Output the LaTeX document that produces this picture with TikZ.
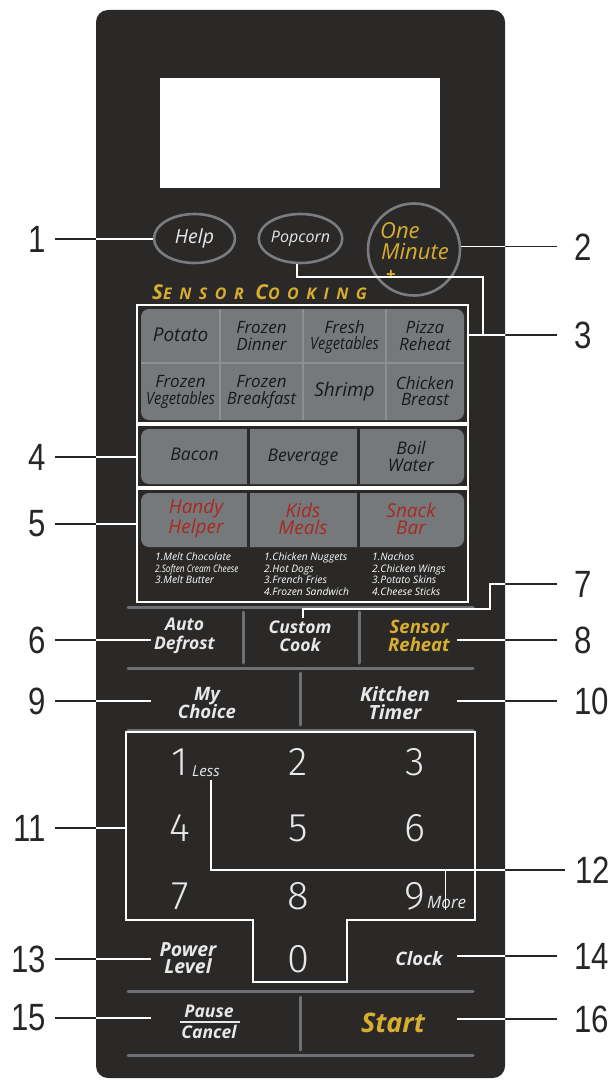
\documentclass[tikz,border=0pt]{standalone}
\usepackage{fontspec}
\setmainfont{Open Sans}
\newfontfamily\labfont{Liberation Sans}
\newfontfamily\digfont{Fira Sans Light}
\usetikzlibrary{shapes.geometric}
\newcommand\narrowlab[1]{\scalebox{0.82}[1]{#1}}
\definecolor{panel}{HTML}{2A2928}
\definecolor{ringgray}{HTML}{7A7C7F}
\definecolor{cellgray}{HTML}{76797C}
\definecolor{divgray}{HTML}{8D9092}
\definecolor{sepgray}{HTML}{6E7073}
\definecolor{gold}{HTML}{D9AE2F}
\definecolor{redtxt}{HTML}{A8291F}
\definecolor{offwhite}{HTML}{E8E8E8}
\definecolor{labgray}{HTML}{262626}
\tikzset{
  lnum/.style={font=\labfont\fontsize{38}{38}\selectfont, text=labgray, inner xsep=9pt, inner ysep=0pt, anchor=east},
  rnum/.style={font=\labfont\fontsize{38}{38}\selectfont, text=labgray, inner xsep=17pt, inner ysep=0pt, anchor=west},
  oval/.style={ellipse, draw=ringgray, line width=2.6pt, minimum width=81pt, minimum height=49pt, inner sep=0pt, text=offwhite, font=\itshape\fontsize{19.5}{19.5}\selectfont},
  whitebox/.style={draw=white, line width=1.4pt, inner sep=0pt},
  cell/.style={text=black!90, font=\itshape\fontsize{17}{16.7}\selectfont, align=center, inner sep=0pt},
  bigcell/.style={text=black!90, font=\itshape\fontsize{17.5}{17}\selectfont, align=center, inner sep=0pt},
  redcell/.style={text=redtxt, font=\itshape\fontsize{19}{17}\selectfont, align=center, inner sep=0pt},
  sub/.style={text=white, font=\itshape\fontsize{10.3}{11.7}\selectfont, align=left, anchor=north west, inner sep=0pt},
  btn/.style={text=offwhite, font=\bfseries\itshape\fontsize{18.5}{18.5}\selectfont, align=center, inner sep=2pt},
  dig/.style={text=offwhite, font=\digfont\fontsize{40}{40}\selectfont, inner sep=0pt},
  sep/.style={draw=sepgray, line width=3pt, line cap=round},
  conn/.style={line width=1.3pt},
}
\begin{document}
\begin{tikzpicture}[x=1pt,y=-1pt]
\useasboundingbox (0,0) rectangle (614,1083);
% panel
\fill[panel, rounded corners=12pt] (96,10) rectangle (505,1078);
% display
\fill[white] (160,78) rectangle (440,188);

% top buttons
\node[oval] (help) at (194.5,238.5) {Help};
\node[oval, font=\itshape\fontsize{16}{17}\selectfont] (pop) at (300.5,238.5) {Popcorn};
\node[circle, draw=ringgray, line width=2.6pt, minimum size=92pt, inner sep=0pt] (onemin) at (414,249.5) {};
\node[anchor=base west, inner sep=0pt, text=gold, font=\itshape\fontsize{22}{22}\selectfont] (one) at (380,238) {One};
\node[anchor=base west, inner sep=0pt, text=gold, font=\itshape\fontsize{22}{22}\selectfont] (minute) at (381,259) {Minute};
\node[inner sep=0pt, text=gold, font=\bfseries\fontsize{17}{17}\selectfont] (plus) at (391,275) {+};

% sensor cooking heading
\node[anchor=base west, inner sep=0pt, text=gold, font=\bfseries\itshape\addfontfeature{LetterSpace=47}\fontsize{16}{16}\selectfont] (senshead) at (152,299)
  {{\fontsize{20.5}{20}\selectfont S}ENSOR {\fontsize{20.5}{20}\selectfont C}OOKING};

% sensor grid
\node[whitebox, minimum width=331pt, minimum height=118pt] (sens) at (302.5,364) {};
\fill[cellgray, rounded corners=8pt] (141,309) rectangle (464,420);
\draw[divgray, line width=1.5pt] (220,309) -- (220,420) (303,309) -- (303,420) (386,309) -- (386,420) (141,363) -- (464,363);
\node[cell, anchor=base, font=\itshape\fontsize{19}{19}\selectfont] (potato) at (180.5,341) {Potato};
\node[cell] (fdinner) at (261.5,336) {Frozen\\Dinner};
\node[cell] (fveg) at (344.5,337) {Fresh\\\scalebox{0.86}[1]{Vegetables}};
\node[cell] (pizza) at (425,336) {Pizza\\Reheat};
\node[cell] (frveg) at (180.5,392) {Frozen\\\scalebox{0.86}[1]{Vegetables}};
\node[cell] (fbreak) at (261.5,392) {Frozen\\\scalebox{0.97}[1]{Breakfast}};
\node[cell, anchor=base, font=\itshape\fontsize{19}{19}\selectfont] (shrimp) at (344.5,396) {Shrimp};
\node[cell] (chicken) at (425,391) {Chicken\\Breast};

% row 4
\node[whitebox, minimum width=331pt, minimum height=62pt] (row4) at (302.5,456) {};
\fill[cellgray, rounded corners=8pt] (141,429) rectangle (464,484);
\draw[panel, line width=3pt] (248,429) -- (248,484) (358,429) -- (358,484);
\node[bigcell, anchor=base] (bacon) at (194.5,460) {Bacon};
\node[bigcell, anchor=base] (bev) at (303,461) {Beverage};
\node[bigcell] (boil) at (411,456) {Boil\\Water};

% row 5
\node[whitebox, minimum width=331pt, minimum height=113pt] (row5) at (302.5,545.5) {};
\fill[cellgray, rounded corners=8pt] (141,493) rectangle (464,547);
\draw[panel, line width=3pt] (248,493) -- (248,547) (358,493) -- (358,547);
\node[redcell] (handy) at (196,519) {Handy\\Helper};
\node[redcell] (kids) at (303,519) {Kids\\Meals};
\node[redcell] (snack) at (411,519) {Snack\\Bar};
\node[sub] (subA) at (155,552.5) {1.Melt Chocolate\\\scalebox{0.8}[1]{2.Soften Cream Cheese}\\3.Melt Butter};
\node[sub] (subB) at (264,552.5) {1.Chicken Nuggets\\2.Hot Dogs\\3.French Fries\\4.Frozen Sandwich};
\node[sub] (subC) at (372,552.5) {1.Nachos\\2.Chicken Wings\\3.Potato Skins\\4.Cheese Sticks};

% separators
\draw[sep] (128,607) -- (473,607);
\draw[sep] (128,668) -- (473,668);
\draw[sep] (128,730) -- (473,730);
\draw[sep] (128,991) -- (473,991);
\draw[sep] (128,1055) -- (473,1055);
\draw[sep] (243,612) -- (243,663);
\draw[sep] (359,612) -- (359,663);
\draw[sep] (300,673) -- (300,725);
\draw[sep] (300,997) -- (300,1050);

% function buttons
\node[btn, font=\bfseries\itshape\fontsize{17.5}{18.5}\selectfont] (auto) at (184.5,636) {Auto\\Defrost};
\node[btn, font=\bfseries\itshape\fontsize{17.5}{18.5}\selectfont] (custom) at (300,636) {Custom\\Cook};
\node[btn, text=gold] (reheat) at (419,636) {Sensor\\Reheat};
\node[btn] (mychoice) at (207,703) {My\\Choice};
\node[btn, font=\bfseries\itshape\fontsize{19.5}{18.5}\selectfont] (ktimer) at (395,703) {Kitchen\\Timer};
\node[btn, font=\bfseries\itshape\fontsize{19.5}{17.5}\selectfont] (power) at (188,958) {Power\\Level};
\node[btn, anchor=base] (clock) at (419,965) {Clock};
\node[btn, font=\bfseries\itshape\fontsize{17.5}{21}\selectfont] (pause) at (209,1022) {Pause\\Cancel};
\draw[offwhite, line width=1.2pt] (180,1022) -- (240,1022);
\node[btn, text=gold, anchor=base, font=\bfseries\itshape\fontsize{27}{27}\selectfont] (start) at (393,1032) {Start};

% keypad
\draw[white, line width=1.3pt] (126,732) -- (475,732) -- (475,920) -- (347,920) -- (347,982) -- (253,982) -- (253,920) -- (126,920) -- cycle;
\node[dig] (k1) at (180,762) {1};
\node[anchor=base west, inner sep=0pt, text=offwhite, font=\itshape\fontsize{15}{15}\selectfont] (less) at (192,776) {Less};
\node[dig] (k2) at (298,762) {2};
\node[dig] (k3) at (415,762) {3};
\node[dig] (k4) at (180,828) {4};
\node[dig] (k5) at (298,828) {5};
\node[dig] (k6) at (415,828) {6};
\node[dig] (k7) at (180,896) {7};
\node[dig] (k8) at (298,896) {8};
\node[dig] (k9) at (415,896) {9};
\node[anchor=base west, inner sep=0pt, text=offwhite, font=\itshape\fontsize{17}{17}\selectfont] (more) at (427,908) {More};
\node[dig] (k0) at (298,959.5) {0};

% number labels
\node[lnum] (l1) at (55,239) {\narrowlab{1}};
\node[rnum] (l2) at (557,247) {\narrowlab{2}};
\node[rnum] (l3) at (557,335) {\narrowlab{3}};
\node[lnum] (l4) at (55,457) {\narrowlab{4}};
\node[lnum] (l5) at (55,524) {\narrowlab{5}};
\node[lnum] (l6) at (55,640) {\narrowlab{6}};
\node[rnum] (l7) at (557,584) {\narrowlab{7}};
\node[rnum] (l8) at (557,640) {\narrowlab{8}};
\node[lnum] (l9) at (55,701) {\narrowlab{9}};
\node[rnum] (l10) at (557,701) {\narrowlab{10}};
\node[lnum] (l11) at (55,828) {\narrowlab{11}};
\node[rnum, inner xsep=10pt] (l12) at (565,870) {\narrowlab{12}};
\node[lnum] (l13) at (55,959) {\narrowlab{13}};
\node[rnum] (l14) at (557,956) {\narrowlab{14}};
\node[lnum] (l15) at (55,1018) {\narrowlab{15}};
\node[rnum] (l16) at (557,1019) {\narrowlab{16}};

% connector end coordinates
\coordinate (c3) at (483,277);
\coordinate (c7) at (490,609);
\coordinate (e6) at (151,640);
\coordinate (e8) at (457,640);
\coordinate (e9) at (151,701);
\coordinate (e10) at (457,701);
\coordinate (e11) at (126,828);
\coordinate (e13) at (151,959);
\coordinate (e14) at (457,956);
\coordinate (e15) at (151,1018);
\coordinate (e16) at (457,1019);

\def\allconns{%
  \draw[conn] (l1.east) -- (l1.east -| help.west);
  \draw[conn] (onemin.4) -- (onemin.4 -| l2.west);
  \draw[conn] (pop.262) |- (c3) |- (l3.west);
  \draw[conn] (sens.east |- l3.west) -- (l3.west);
  \draw[conn] (l4.east) -- (l4.east -| row4.west);
  \draw[conn] (l5.east) -- (l5.east -| row5.west);
  \draw[conn] (l6.east) -- (e6);
  \draw[conn] ([xshift=3pt]custom.north) |- (c7) |- (l7.west);
  \draw[conn] (e8) -- (l8.west);
  \draw[conn] (l9.east) -- (e9);
  \draw[conn] (e10) -- (l10.west);
  \draw[conn] (l11.east) -- (e11);
  \draw[conn] ([xshift=5pt,yshift=-4pt]less.south) |- (l12.west);
  \draw[conn] ([xshift=-1pt,yshift=-14pt]more.north) -- ([xshift=-1pt]more.north |- l12.west);
  \draw[conn] (l13.east) -- (e13);
  \draw[conn] (e14) -- (l14.west);
  \draw[conn] (l15.east) -- (e15);
  \draw[conn] (e16) -- (l16.west);
}
\begin{scope}[labgray]
  \allconns
\end{scope}
\begin{scope}
  \clip[rounded corners=12pt] (96,10) rectangle (505,1078);
  \begin{scope}[white]
    \allconns
  \end{scope}
\end{scope}
\end{tikzpicture}
\end{document}
